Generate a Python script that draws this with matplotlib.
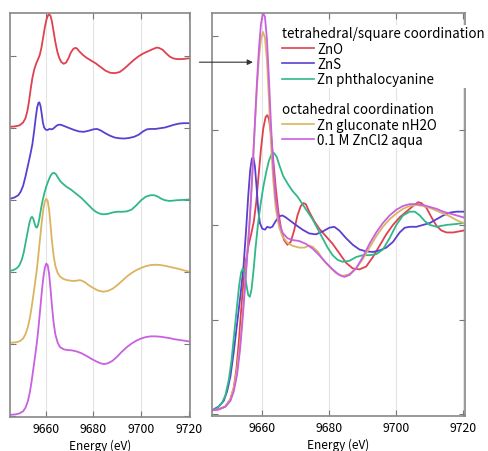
"""
Zn K-edge XANES spectra: stacked (left) and overlaid (right).
"""
import matplotlib
matplotlib.use('Agg')
import matplotlib.pyplot as plt
from matplotlib.lines import Line2D

plt.rcParams['font.family'] = ['Noto Sans CJK JP', 'DejaVu Sans']

# Spectra: energy (eV) and normalised absorption
zno_e = [9645, 9647, 9649, 9650.5, 9651.5, 9652.3, 9653, 9653.7, 9654.4,
         9655.2, 9656, 9656.8, 9657.5, 9658.2, 9658.9, 9659.6, 9660.3, 9661,
         9661.5, 9662, 9662.6, 9663.2, 9664, 9664.8, 9665.6, 9666.5, 9667.5,
         9668.5, 9669.5, 9670.5, 9671.5, 9672.3, 9673, 9674, 9675.5, 9677,
         9679, 9681, 9683, 9685, 9687, 9689, 9691, 9693, 9695, 9697, 9699,
         9701, 9703, 9705, 9706.5, 9707.5, 9709, 9710.5, 9712, 9713.5, 9715,
         9717, 9720]
zno_mu = [0.02, 0.025, 0.04, 0.08, 0.14, 0.24, 0.38, 0.55, 0.70,
          0.82, 0.90, 0.96, 1.02, 1.12, 1.26, 1.40, 1.51, 1.57,
          1.58, 1.56, 1.48, 1.36, 1.20, 1.07, 0.98, 0.92, 0.895,
          0.91, 0.97, 1.05, 1.10, 1.115, 1.11, 1.07, 1.02, 0.98,
          0.94, 0.90, 0.85, 0.80, 0.77, 0.765, 0.78, 0.83, 0.89, 0.95, 1.0,
          1.04, 1.07, 1.10, 1.12, 1.115, 1.09, 1.04, 0.995, 0.97, 0.96,
          0.96, 0.97]

zns_e = [9645, 9647, 9648.5, 9649.5, 9650.5, 9651.5, 9652.5, 9653.5, 9654.4,
         9655.2, 9655.8, 9656.4, 9656.9, 9657.3, 9657.8, 9658.3, 9658.8,
         9659.3, 9660, 9660.8, 9661.5, 9662.3, 9663, 9664, 9665, 9666, 9667,
         9668.5, 9670, 9672, 9674, 9676, 9678, 9680, 9681.5, 9683, 9685,
         9687, 9689, 9691, 9693, 9695, 9697, 9699, 9701, 9702.5, 9704, 9706,
         9708, 9710, 9712, 9714, 9716, 9718, 9720]
zns_mu = [0.02, 0.04, 0.07, 0.12, 0.2, 0.33, 0.48, 0.63, 0.78,
          0.98, 1.15, 1.29, 1.35, 1.36, 1.31, 1.20, 1.08,
          1.01, 0.98, 0.975, 0.99, 0.985, 0.99, 1.02, 1.045, 1.05, 1.04,
          1.02, 1.0, 0.975, 0.955, 0.95, 0.965, 0.985, 0.99, 0.97, 0.93,
          0.895, 0.87, 0.86, 0.857, 0.865, 0.88, 0.91, 0.96, 0.985, 0.99, 0.99,
          1.0, 1.01, 1.03, 1.05, 1.065, 1.07, 1.07]

znpc_e = [9645, 9646.5, 9648, 9649, 9650, 9650.8, 9651.6, 9652.4, 9653.1,
          9653.7, 9654.2, 9654.7, 9655.3, 9655.8, 9656.3, 9656.8, 9657.4,
          9658, 9658.7, 9659.5, 9660.3, 9661.2, 9662, 9662.8, 9663.5, 9664.3,
          9665.2, 9666.2, 9667.5, 9669, 9670.5, 9672, 9673.5, 9675, 9676.5,
          9678, 9679.5, 9681, 9682.5, 9684, 9686, 9688, 9690, 9692, 9694,
          9696, 9698, 9700, 9702, 9704, 9705.5, 9707, 9708.5, 9710, 9712,
          9715, 9718, 9720]
znpc_mu = [0.02, 0.03, 0.06, 0.1, 0.18, 0.28, 0.42, 0.56, 0.68,
           0.75, 0.77, 0.75, 0.68, 0.63, 0.62, 0.66, 0.76,
           0.88, 1.0, 1.11, 1.2, 1.28, 1.34, 1.375, 1.38, 1.36,
           1.31, 1.26, 1.22, 1.18, 1.15, 1.11, 1.07, 1.03, 0.98,
           0.93, 0.88, 0.84, 0.815, 0.805, 0.81, 0.83, 0.84, 0.84, 0.845,
           0.87, 0.93, 1.0, 1.05, 1.07, 1.07, 1.05, 1.02, 1.0, 0.99,
           1.0, 1.005, 1.01]

glu_e = [9645, 9647, 9649, 9650.5, 9651.5, 9652.5, 9653.3, 9654, 9654.8,
         9655.5, 9656.3, 9657, 9657.7, 9658.4, 9659, 9659.6, 9660.2, 9660.8,
         9661.4, 9662, 9662.6, 9663.3, 9664, 9665, 9666, 9667.5, 9669, 9671,
         9672.5, 9674, 9675, 9676.5, 9678, 9680, 9682, 9684, 9686, 9688,
         9690, 9692, 9694, 9696, 9698, 9700, 9702, 9704, 9706, 9708, 9710,
         9712, 9714, 9716, 9718, 9720]
glu_mu = [0.02, 0.025, 0.04, 0.08, 0.14, 0.24, 0.36, 0.5, 0.68,
          0.85, 1.05, 1.27, 1.5, 1.72, 1.88, 1.98, 2.02, 1.99,
          1.87, 1.66, 1.43, 1.23, 1.09, 0.99, 0.94, 0.905, 0.89, 0.88,
          0.88, 0.89, 0.885, 0.86, 0.82, 0.78, 0.745, 0.73, 0.74, 0.77,
          0.82, 0.88, 0.94, 0.99, 1.03, 1.06, 1.085, 1.10, 1.105, 1.10, 1.09,
          1.075, 1.06, 1.045, 1.025, 1.01]

aq_e = [9645, 9647, 9649, 9650.5, 9651.5, 9652.5, 9653.3, 9654, 9654.8,
        9655.5, 9656.3, 9657, 9657.7, 9658.4, 9659, 9659.6, 9660.2, 9660.8,
        9661.4, 9662, 9662.6, 9663.3, 9664, 9665, 9666, 9667.5, 9669, 9671,
        9673, 9675, 9677, 9679, 9681, 9683, 9684.5, 9686, 9688, 9690, 9692,
        9694, 9696, 9698, 9700, 9702, 9704, 9706, 9708, 9710, 9712, 9714,
        9716, 9718, 9720]
aq_mu = [0.02, 0.025, 0.04, 0.07, 0.12, 0.21, 0.33, 0.47, 0.66,
         0.83, 1.03, 1.25, 1.5, 1.75, 1.93, 2.06, 2.12, 2.1,
         1.98, 1.77, 1.53, 1.3, 1.14, 1.02, 0.96, 0.93, 0.92, 0.915,
         0.9, 0.875, 0.84, 0.8, 0.765, 0.735, 0.725, 0.735, 0.77, 0.83, 0.9,
         0.96, 1.01, 1.05, 1.08, 1.1, 1.11, 1.11, 1.105, 1.095, 1.085, 1.07,
         1.06, 1.05, 1.04]

names = ['ZnO', 'ZnS', 'Zn phthalocyanine', 'Zn gluconate nH2O',
         '0.1 M ZnCl2 aqua']
energies = [zno_e, zns_e, znpc_e, glu_e, aq_e]
spectra = [zno_mu, zns_mu, znpc_mu, glu_mu, aq_mu]
offsets = [4, 3, 2, 1, 0]
colors = ['#e0404f', '#5a40d0', '#30b888', '#dcb460', '#c860e0']

energy_ticks = [9660, 9680, 9700, 9720]
arrow_level = 1.86

fig = plt.figure(figsize=(4.89, 4.52), dpi=100)
ax_l = fig.add_axes([10 / 489, 34 / 452, 180 / 489, 404 / 452])
ax_r = fig.add_axes([212 / 489, 35 / 452, 253 / 489, 403 / 452])


def style_axes(ax, yticks):
    ax.set_xlim(9645, 9720.5)
    ax.set_xticks(energy_ticks)
    ax.set_yticks(yticks)
    ax.set_yticklabels([])
    ax.tick_params(direction='in', length=4, color='#777777', width=0.8,
                   top=True, right=True, labelsize=8.8, pad=3.5)
    for s in ax.spines.values():
        s.set_color('#888888')
        s.set_linewidth(1.2)
    ax.grid(axis='x', color='#e4e4e4', linewidth=0.8)
    ax.set_axisbelow(True)
    ax.set_xlabel('Energy (eV)', fontsize=8.5, labelpad=3)


# Left: stacked spectra
for e, mu, off, c in zip(energies, spectra, offsets, colors):
    ax_l.plot(e, [m + off for m in mu], color=c, lw=1.3)
ax_l.set_ylim(-0.01, 5.6)
style_axes(ax_l, [0, 1, 2, 3, 4, 5])

# Right: overlaid spectra
for e, mu, c in zip(energies, spectra, colors):
    ax_r.plot(e, mu, color=c, lw=1.3)
ax_r.set_ylim(-0.01, 2.12)
style_axes(ax_r, [0, 0.5, 1.0, 1.5, 2.0])

ax_r.annotate('', xy=(9657.2, arrow_level), xycoords='data',
              xytext=(-0.05, arrow_level),
              textcoords=('axes fraction', 'data'),
              arrowprops=dict(arrowstyle='-|>', color='#333333', lw=0.8,
                              mutation_scale=8, shrinkA=0, shrinkB=0),
              annotation_clip=False)

handles = [Line2D([], [], color=c, lw=1.2) for c in colors]
leg_kw = dict(fontsize=9.6, title_fontsize=9.6, alignment='left',
              frameon=True, framealpha=1, edgecolor='none', handlelength=2.4,
              handletextpad=0.25, labelspacing=0.1, borderpad=0.1,
              borderaxespad=0, fancybox=False)
leg1 = ax_r.legend(handles[:3], names[:3],
                   title='tetrahedral/square coordination',
                   loc='upper left', bbox_to_anchor=(0.27, 0.97), **leg_kw)
ax_r.add_artist(leg1)
ax_r.legend(handles[3:], names[3:], title='octahedral coordination',
            loc='upper left', bbox_to_anchor=(0.27, 0.782), **leg_kw)

fig.savefig('out.png', dpi=100)
